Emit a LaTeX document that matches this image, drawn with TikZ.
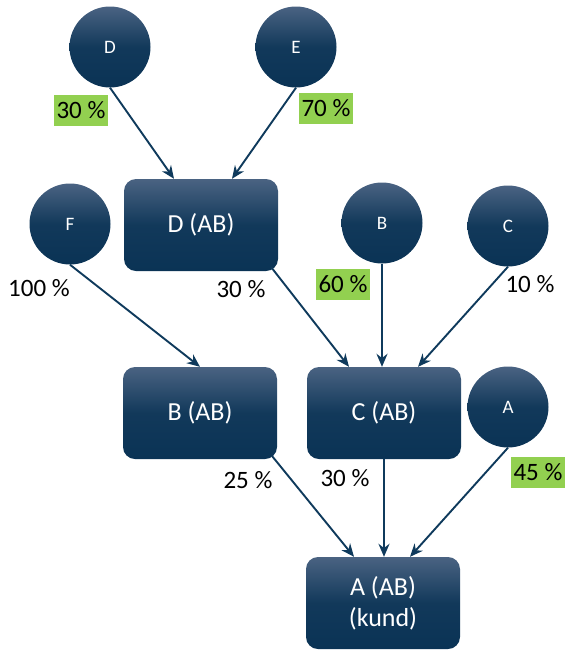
\documentclass[tikz,border=0pt]{standalone}
\usepackage{fontspec}
\setmainfont{Carlito}
\usetikzlibrary{arrows.meta, positioning, calc}
\definecolor{navytop}{HTML}{4A6382}
\definecolor{navybot}{HTML}{0A3355}
\definecolor{linkcol}{HTML}{0F3A5C}
\definecolor{pctgreen}{HTML}{92D050}

\begin{document}
\begin{tikzpicture}[x=1pt,y=-1pt,
  owner/.style={circle,draw=none,top color=navytop,bottom color=navybot,middle color=navybot!88!navytop, minimum size=81pt,inner sep=0pt,text=white,font=\fontsize{19}{23}\selectfont},
  firm/.style={rectangle,draw=none,top color=navytop,bottom color=navybot,middle color=navybot!88!navytop,rounded corners=12pt, minimum width=154pt,minimum height=92pt,align=center,text=white,font=\fontsize{26}{31}\selectfont},
  pct/.style={inner xsep=3pt,inner ysep=2pt,minimum height=31pt,font=\fontsize{25}{29}\selectfont},
  hl/.style={pct,fill=pctgreen},
  link/.style={-{Stealth[length=13pt,width=11pt]},line width=1.9pt,linkcol}
]
  \useasboundingbox (0,0) rectangle (576,657);

  \node[owner](d)   at (110,47)  {D};
  \node[owner](e)   at (296,47)  {E};
  \node[owner](f)   at (70,224)  {F};
  \node[owner](b)   at (382,223) {B};
  \node[owner](c)   at (508,226) {C};
  \node[owner](a)   at (508,407) {A};
  \node[firm](dab)  at (201,225) {D (AB)};
  \node[firm](bab)  at (200,413) {B (AB)};
  \node[firm](cab)  at (384,413) {C (AB)};
  \node[firm](aab)  at (383,603) {A (AB)\\(kund)};

  \node[hl](pd)   at (81,110)  {30 \%};
  \node[hl](pe)   at (326,108) {70 \%};
  \node[pct](pf)  at (39,288)  {100 \%};
  \node[pct](pdab) at (241,289) {30 \%};
  \node[hl](pb)   at (343,284) {60 \%};
  \node[pct](pc)  at (530,284) {10 \%};
  \node[pct](pbab) at (248,480) {25 \%};
  \node[pct](pcab) at (345,478) {30 \%};
  \node[hl](pa)   at (538,472) {45 \%};

  \draw[link](d.south) -- ([xshift=-27pt]dab.north);
  \draw[link](e.south) -- ([xshift=31pt]dab.north);
  \draw[link](f.south) -- (bab.north);
  \draw[link]([shift={(-7pt,4pt)}]dab.south east) -- ([xshift=-35pt]cab.north);
  \draw[link](b.south) -- (b.south |- cab.north);
  \draw[link](c.south) -- ([xshift=34pt]cab.north);
  \draw[link]([shift={(-5pt,3pt)}]bab.south east) -- ([xshift=-29pt]aab.north);
  \draw[link](cab.south) -- (cab.south |- aab.north);
  \draw[link](a.south) -- ([xshift=27pt]aab.north);
\end{tikzpicture}
\end{document}
